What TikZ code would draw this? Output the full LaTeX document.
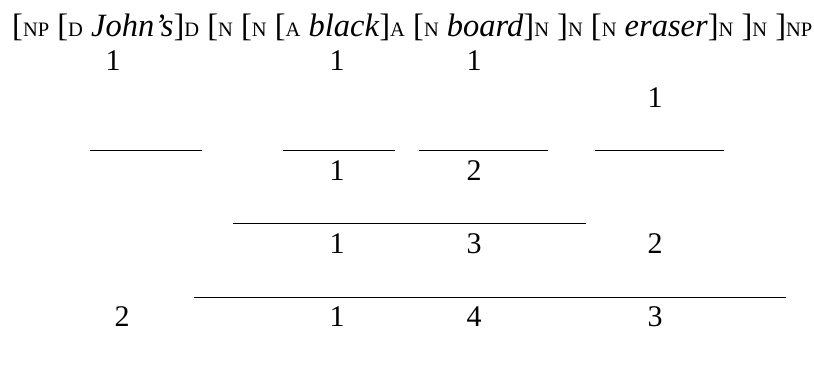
\documentclass[tikz,border=0pt]{standalone}
\usepackage{fontspec}
\setmainfont{Liberation Serif}
\usepackage{tikz}
\usetikzlibrary{positioning}
\newcommand{\lab}[1]{{\fontsize{20.5}{20.5}\selectfont #1}}
\tikzset{
  bracket/.style = {font=\fontsize{32.5}{38}\selectfont, inner sep=0pt, anchor=base west},
  num/.style     = {font=\fontsize{30}{36}\selectfont, inner sep=0pt},
  bar/.style     = {draw=black, line width=0.8pt},
}

\begin{document}
\begin{tikzpicture}[x=1pt, y=-1pt]
  \useasboundingbox (0,0) rectangle (814,366);

  \node[bracket] (np) at (12,37)
    {[\lab{NP} [\lab{D} \textit{John’s}]\lab{D} [\lab{N} [\lab{N} [\lab{A} \textit{black}]\lab{A} [\lab{N} \textit{board}]\lab{N} ]\lab{N} [\lab{N} \textit{eraser}]\lab{N} ]\lab{N} ]\lab{NP}};

  % words
  \node[num] (john)   at (113,61) {1};
  \node[num] (black)  at (337,61) {1};
  \node[num] (board)  at (474,61) {1};
  \node[num] (eraser) at (655,98) {1};

  % first step
  \draw[bar] (90,150) -- (202,150);
  \draw[bar] (283,150) -- (395,150);
  \draw[bar] (419,150) -- (548,150);
  \draw[bar] (595,150) -- (724,150);
  \node[num] (c1) at (337,171) {1};
  \node[num] (c2) at (474,171) {2};

  % second step
  \draw[bar] (233,223) -- (586,223);
  \node[num] (d1) at (337,244) {1};
  \node[num] (d2) at (474,244) {3};
  \node[num] (d3) at (655,244) {2};

  % third step
  \draw[bar] (194,297) -- (786,297);
  \node[num] (e0) at (122,317) {2};
  \node[num] (e1) at (337,317) {1};
  \node[num] (e2) at (474,317) {4};
  \node[num] (e3) at (655,317) {3};
\end{tikzpicture}
\end{document}
